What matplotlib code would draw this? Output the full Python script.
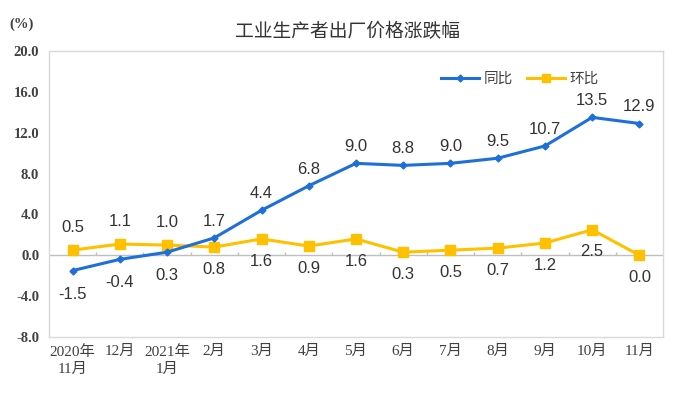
import matplotlib
matplotlib.use("Agg")
import matplotlib.pyplot as plt
import numpy as np

categories = ["2020年\n11月", "12月", "2021年\n1月", "2月", "3月", "4月", "5月",
              "6月", "7月", "8月", "9月", "10月", "11月"]
yoy = [-1.5, -0.4, 0.3, 1.7, 4.4, 6.8, 9.0, 8.8, 9.0, 9.5, 10.7, 13.5, 12.9]
mom = [0.5, 1.1, 1.0, 0.8, 1.6, 0.9, 1.6, 0.3, 0.5, 0.7, 1.2, 2.5, 0.0]
yoy_pos = ["below", "below", "below"] + ["above"] * 10
mom_pos = ["above", "above", "above"] + ["below"] * 10
yticks = [-8.0, -4.0, 0.0, 4.0, 8.0, 12.0, 16.0, 20.0]

BLUE = "#1E6FD9"
YELLOW = "#FFC000"
TXT = "#333333"
SANS = ["Liberation Sans", "Noto Sans CJK SC"]
SERIF = ["Liberation Serif", "Noto Sans CJK SC"]

fig = plt.figure(figsize=(6.8, 3.98), dpi=100)
ax = fig.add_axes([0.072, 0.1533, 0.903, 0.7186])
x = np.arange(len(categories))

ax.plot(x, yoy, color=BLUE, lw=2.2, marker="D", ms=3.5, label="同比", zorder=4)
ax.plot(x, mom, color=YELLOW, lw=2.2, marker="s", ms=7.5, label="环比", zorder=3)

for xi, v, p in zip(x, yoy, yoy_pos):
    off = 12 if p == "above" else -17
    ax.annotate(f"{v:.1f}", (xi, v), xytext=(0, off), textcoords="offset points",
                ha="center", va="center", fontsize=12, color=TXT, family=SANS)
for xi, v, p in zip(x, mom, mom_pos):
    off = 16 if p == "above" else -16
    ax.annotate(f"{v:.1f}", (xi, v), xytext=(0, off), textcoords="offset points",
                ha="center", va="center", fontsize=12, color=TXT, family=SANS)

ax.set_xlim(-0.5, len(categories) - 0.5)
ax.set_ylim(-8, 20)
ax.set_yticks(yticks)
ax.set_yticklabels([f"{t:.1f}" for t in yticks], family=SERIF, fontsize=10.5,
                   color="#404040", fontweight="bold")
ax.set_xticks(x)
ax.set_xticklabels(categories, family=SERIF, fontsize=11, color="#404040",
                   linespacing=1.35)
ax.tick_params(axis="x", length=0, pad=6)
ax.tick_params(axis="y", length=0, pad=7)
for s in ax.spines.values():
    s.set_color("#D9D9D9")
    s.set_linewidth(1.0)

ax.axhline(0, color="#BFBFBF", lw=1.0, zorder=1)
ax.vlines(x[:-1] + 0.5, 0, 0.35, color="#BFBFBF", lw=1.0, zorder=1)

leg = ax.legend(loc="center", bbox_to_anchor=(0.767, 0.902), ncol=2, frameon=False,
                prop={"family": SANS, "size": 10.5}, handlelength=2.6,
                columnspacing=1.0, handletextpad=0.3)
for t in leg.get_texts():
    t.set_color("#404040")
leg.legend_handles[1].set_markersize(5.5)
leg.legend_handles[0].set_markersize(3.5)

fig.text(348 / 680, 1 - 32 / 398, "工业生产者出厂价格涨跌幅", ha="center", va="center",
         fontsize=13.5, color=TXT, family=SANS)
fig.text(22 / 680, 1 - 24 / 398, "(%)", ha="center", va="center",
         fontsize=10.5, color="#404040", family=SERIF, fontweight="bold")

fig.savefig("out.png", dpi=100)
